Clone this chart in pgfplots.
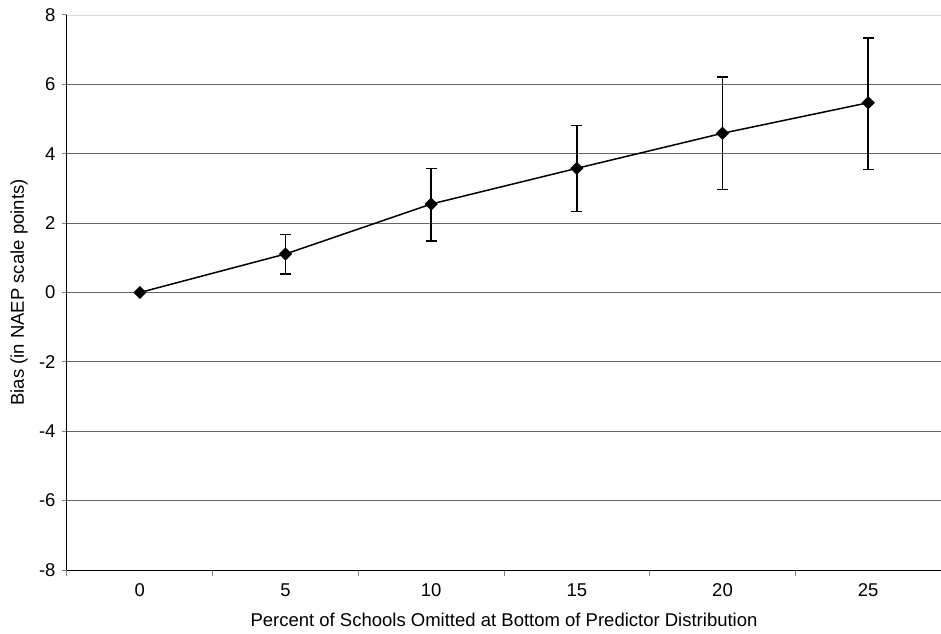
\documentclass[border=0pt]{standalone}
\usepackage{fontspec}
\setmainfont{Liberation Sans}
\usepackage{pgfplots}
\pgfplotsset{compat=1.18}
\begin{document}
\begin{tikzpicture}
\begin{axis}[
  scale only axis, width=874pt, height=555pt,
  xmin=-0.5, xmax=5.5, ymin=-8, ymax=8,
  axis lines*=left,
  axis line style={black, line width=1pt},
  xtick={0,1,2,3,4,5}, xticklabels={0,5,10,15,20,25},
  major x tick style={draw=none},
  minor xtick={-0.5,0.5,1.5,2.5,3.5,4.5,5.5},
  minor x tick style={black!50, line width=1pt},
  ytick={-8,-6,-4,-2,0,2,4,6}, extra y ticks={8},
  extra y tick style={grid style={black!15, line width=0.8pt}},
  ymajorgrids, grid style={black!60, line width=0.8pt},
  tick align=outside, major tick length=5pt, minor tick length=6pt,
  y tick style={black!50, line width=1pt},
  /pgf/number format/assume math mode=true,
  ticklabel style={font=\fontsize{18.5}{22}\selectfont},
  yticklabel style={xshift=-3pt},
  xticklabel style={yshift=-5pt},
  label style={font=\fontsize{18.5}{22}\selectfont},
  xlabel={Percent of Schools Omitted at Bottom of Predictor Distribution},
  ylabel={Bias (in NAEP scale points)},
  xlabel style={at={(rel axis cs:0.5,0)}, anchor=center, yshift=-50pt},
  ylabel style={at={(rel axis cs:0,0.5)}, anchor=center, yshift=48pt},
  clip=false,
]
\addplot[black, line width=1.5pt, mark=square*, mark size=3.9pt,
  mark options={rotate=45, solid},
  error bars/.cd, y dir=both, y explicit,
  error bar style={black, line width=1.5pt},
  error mark options={rotate=90, mark size=5.5pt, line width=1.5pt}]
  table[x=x, y=y, y error plus=ep, y error minus=em] {
  x y ep em
  0 0 0 0
  1 1.11 0.56 0.57
  2 2.55 1.03 1.07
  3 3.58 1.24 1.25
  4 4.59 1.62 1.62
  5 5.47 1.86 1.92
};
\end{axis}
\pgfresetboundingbox
\path (-67pt,-63pt) rectangle (874pt,570pt);
\end{tikzpicture}
\end{document}
